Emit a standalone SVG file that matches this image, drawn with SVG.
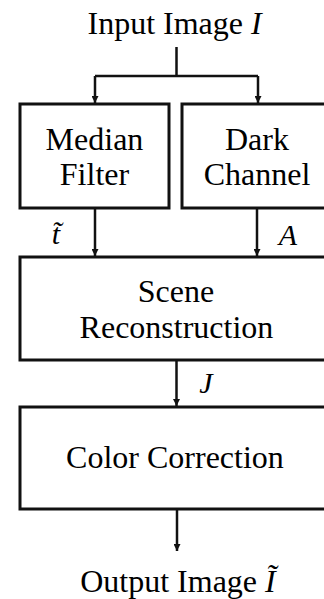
<svg xmlns="http://www.w3.org/2000/svg" width="324" height="599" viewBox="0 0 324 599">
<defs>
<marker id="ah" viewBox="0 0 10 10" refX="10" refY="5" markerWidth="7" markerHeight="7" markerUnits="userSpaceOnUse" orient="auto">
<path d="M0,0 L10,5 L0,10 Z" fill="#111"/>
</marker>
<style>
.box{fill:#fff;stroke:#111;stroke-width:3}
.ln{fill:none;stroke:#111;stroke-width:2.5}
</style>
</defs>
<rect width="324" height="599" fill="#fff"/>
<g id="connectors">
<path class="ln" d="M176.5,47 V76 M95,76 H258"/>
<path class="ln" d="M95,76 V103" marker-end="url(#ah)"/>
<path class="ln" d="M258,76 V103" marker-end="url(#ah)"/>
<path class="ln" d="M95,208 V256" marker-end="url(#ah)"/>
<path class="ln" d="M257,208 V256" marker-end="url(#ah)"/>
<path class="ln" d="M176.5,360 V406" marker-end="url(#ah)"/>
<path class="ln" d="M177,510 V551" marker-end="url(#ah)"/>
<text x="51.8" y="244" font-family="Liberation Serif" font-size="30" font-style="italic">t&#771;</text>
<text x="278.8" y="245" font-family="Liberation Serif" font-size="30" font-style="italic">A</text>
<text x="199.3" y="393" font-family="Liberation Serif" font-size="30" font-style="italic">J</text>
</g>
<g id="input">
<text x="87.5" y="34" font-family="Liberation Serif" font-size="32">Input Image <tspan font-style="italic">I</tspan></text>
</g>
<g id="median">
<rect class="box" x="20" y="104" width="149" height="104"/>
<text x="45.6" y="150" font-family="Liberation Serif" font-size="32">Median</text>
<text x="59.8" y="185" font-family="Liberation Serif" font-size="32">Filter</text>
</g>
<g id="dark">
<rect class="box" x="182" y="104" width="152" height="104"/>
<text x="225" y="150" font-family="Liberation Serif" font-size="32">Dark</text>
<text x="203.7" y="185" font-family="Liberation Serif" font-size="32">Channel</text>
</g>
<g id="scene">
<rect class="box" x="20" y="257" width="314" height="103"/>
<text x="137.8" y="302" font-family="Liberation Serif" font-size="32">Scene</text>
<text x="79.6" y="338" font-family="Liberation Serif" font-size="32">Reconstruction</text>
</g>
<g id="color">
<rect class="box" x="20" y="407" width="314" height="102"/>
<text x="66.1" y="468" font-family="Liberation Serif" font-size="32">Color Correction</text>
</g>
<g id="output">
<text x="80.2" y="592" font-family="Liberation Serif" font-size="32">Output Image <tspan font-style="italic">&#296;</tspan></text>
</g>
</svg>
